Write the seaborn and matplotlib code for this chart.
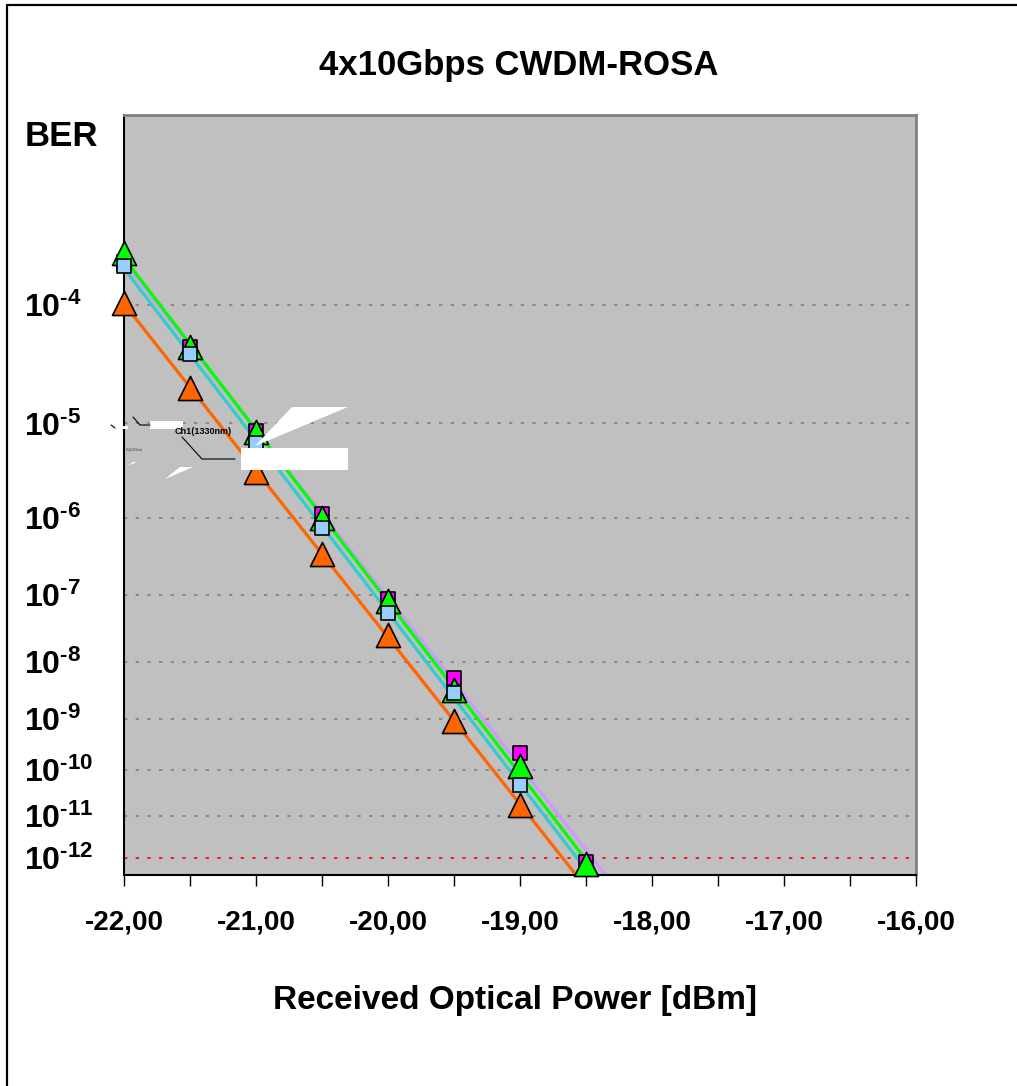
import math
import numpy as np
import seaborn as sns
import matplotlib.pyplot as plt
from matplotlib.lines import Line2D
from matplotlib.patches import Polygon
from matplotlib.ticker import FixedLocator, NullLocator

# -----------------------------
# Data
# -----------------------------
power = [-22.0, -21.5, -21.0, -20.5, -20.0, -19.5, -19.0, -18.5]
power_short = [-22.0, -21.5, -21.0, -20.5, -20.0, -19.5, -19.0]

ber_ch1 = [2.0e-4, 4.7e-5, 8.4e-6, 1.09e-6, 9.0e-8, 5.4e-9, 2.2e-10, 7.5e-13]   # magenta squares
ber_ch2 = [2.28e-4, 4.7e-5, 8.2e-6, 9.8e-7, 8.2e-8, 3.4e-9, 1.2e-10, 7.0e-13]   # green triangles
ber_ch3 = [1.86e-4, 4.1e-5, 6.5e-6, 7.4e-7, 5.65e-8, 2.9e-9, 4.8e-11]           # light blue squares
ber_ch4 = [1.03e-4, 2.1e-5, 3.2e-6, 3.6e-7, 2.66e-8, 9.4e-10, 1.75e-11]         # orange triangles

ytick_vals = [1e-4, 1e-5, 1e-6, 1e-7, 1e-8, 1e-9, 1e-10, 1e-11, 1e-12]
ytick_labels = [r"$10^{\text{-%d}}$" % k for k in range(4, 13)]
xtick_vals = [-22, -21, -20, -19, -18, -17, -16]
xtick_labels = [f"{v:.2f}".replace(".", ",") for v in xtick_vals]

# -----------------------------
# BER scale (linear in Q [dB])
# -----------------------------
_erfc = np.vectorize(math.erfc, otypes=[float])


def q_from_ber(b):
    b = np.clip(np.asarray(b, dtype=float), 1e-300, 0.4999)
    lo = np.zeros_like(b)
    hi = np.full_like(b, 40.0)
    for _ in range(60):
        mid = 0.5 * (lo + hi)
        big = 0.5 * _erfc(mid / np.sqrt(2)) > b
        lo = np.where(big, mid, lo)
        hi = np.where(big, hi, mid)
    return 0.5 * (lo + hi)


def forward(b):
    return -20 * np.log10(q_from_ber(b))


def inverse(v):
    v = np.asarray(v, dtype=float)
    return 0.5 * _erfc(10 ** (-v / 20) / np.sqrt(2))


# -----------------------------
# Figure
# -----------------------------
sns.set_style("white")
plt.rcParams['font.family'] = ['Liberation Sans', 'DejaVu Sans']
plt.rcParams['mathtext.fontset'] = 'custom'
plt.rcParams['mathtext.bf'] = 'Liberation Sans:bold'
plt.rcParams['mathtext.rm'] = 'Liberation Sans:bold'
plt.rcParams['mathtext.it'] = 'Liberation Sans:bold'
plt.rcParams['text.color'] = 'black'
plt.rcParams['xtick.color'] = 'black'
plt.rcParams['ytick.color'] = 'black'
plt.rcParams['xtick.labelcolor'] = 'black'
plt.rcParams['ytick.labelcolor'] = 'black'

W, H = 1017, 1086
fig = plt.figure(figsize=(W / 100, H / 100), dpi=100)
ax = fig.add_axes([124 / W, 1 - 875 / H, (916 - 124) / W, (875 - 115) / H])
ax.set_facecolor('#C0C0C0')

series = [
    (power, ber_ch1, 's', '#FF00FF', '#CC99FF', 105),
    (power, ber_ch2, '^', '#00FF00', '#00FF00', 300),
    (power_short, ber_ch3, 's', '#99CCFF', '#33CCCC', 110),
    (power_short, ber_ch4, '^', '#FF6600', '#FF6600', 300),
]

# fit lines (straight in Q-dB space)
line_order = [3, 2, 0, 1]
for i in line_order:
    xs, ys, _, _, lc, _ = series[i]
    coef = np.polyfit(xs, forward(ys), 1)
    xfit = np.array([-22.0, -18.0])
    yfit = inverse(np.polyval(coef, xfit))
    sns.lineplot(x=xfit, y=yfit, color=lc, linewidth=2.3, ax=ax,
                 estimator=None, sort=False, zorder=2)

for k, (xs, ys, mk, fc, _, sz) in enumerate(series):
    sns.scatterplot(x=xs, y=ys, marker=mk, s=sz, color=fc, edgecolor='black',
                    linewidth=1.2, ax=ax, zorder=4 + k, clip_on=False)

ax.set_yscale('function', functions=(forward, inverse))
ax.set_ylim(3.55e-13, 1.4e-3)
ax.set_xlim(-22, -16)

# grid lines
for v in ytick_vals[:-1]:
    ax.axhline(v, color='#808080', linestyle=(0, (2, 5)), linewidth=1.2, zorder=1)
ax.axhline(1e-12, color='#FF0000', linestyle=(0, (2, 5)), linewidth=1.2, zorder=1)

ax.yaxis.set_major_locator(FixedLocator(ytick_vals))
ax.yaxis.set_minor_locator(NullLocator())
ax.set_yticklabels(ytick_labels, fontsize=23)
for t in ax.get_yticklabels():
    t.set_horizontalalignment('left')
ax.tick_params(axis='y', length=3, width=0.8, color='#404040', pad=69)

ax.set_xticks(xtick_vals)
ax.set_xticklabels(xtick_labels, fontsize=20, fontweight='bold')
ax.set_xticks(np.arange(-21.5, -16, 1.0), minor=True)
ax.tick_params(axis='x', which='both', length=8, width=1, color='black',
               direction='out', pad=17, bottom=True)
ax.set_xlabel('')
ax.set_ylabel('')

for s in ['left', 'bottom']:
    ax.spines[s].set_color('black')
    ax.spines[s].set_linewidth(1.5)
for s in ['top', 'right']:
    ax.spines[s].set_color('#808080')
    ax.spines[s].set_linewidth(2)

# texts
fig.text(519 / W, 1 - 65 / H, '4x10Gbps CWDM-ROSA', ha='center', va='center',
         fontsize=25, fontweight='bold')
fig.text(25 / W, 1 - 137 / H, 'BER', ha='left', va='center',
         fontsize=25, fontweight='bold')
fig.text(515 / W, 1 - 1000 / H, 'Received Optical Power [dBm]', ha='center',
         va='center', fontsize=24, fontweight='bold')


# leftover label fragments over the plot (pixel coordinates)
def P(x, y):
    return (x / W, 1 - y / H)


white_shapes = [
    [(241, 448), (348, 448), (348, 470), (241, 470)],
    [(292, 407), (348, 407), (255, 446)],
    [(165, 479), (180, 467), (193, 467)],
    [(127, 466), (133, 462), (137, 462)],
    [(150, 421), (183, 421), (183, 429), (150, 429)],
    [(116, 426), (128, 426), (128, 429), (116, 429)],
]
for pts in white_shapes:
    fig.add_artist(Polygon([P(*p) for p in pts], closed=True, facecolor='white',
                           edgecolor='none', transform=fig.transFigure, zorder=10))

leaders = [
    [(133, 417), (140, 425), (150, 425)],
    [(182, 437), (202, 459), (235, 459)],
    [(111, 425), (115, 428)],
]
for pts in leaders:
    xs_, ys_ = zip(*[P(*p) for p in pts])
    fig.add_artist(Line2D(xs_, ys_, color='black', linewidth=0.8,
                          transform=fig.transFigure, zorder=11))

fig.text(*P(203, 432), 'Ch1(1330nm)', ha='center', va='center', fontsize=6.5,
         fontweight='bold', zorder=11)
fig.text(*P(134, 450), 'Ch2(1350nm)', ha='center', va='center', fontsize=2,
         color='#303030', zorder=11)

# outer frame
fig.add_artist(Line2D([7 / W, 7 / W], [0, 1 - 5 / H], color='black', linewidth=1.6,
                      transform=fig.transFigure))
fig.add_artist(Line2D([7 / W, 1], [1 - 5 / H, 1 - 5 / H], color='black', linewidth=1.6,
                      transform=fig.transFigure))

fig.savefig('out.png', dpi=100)
